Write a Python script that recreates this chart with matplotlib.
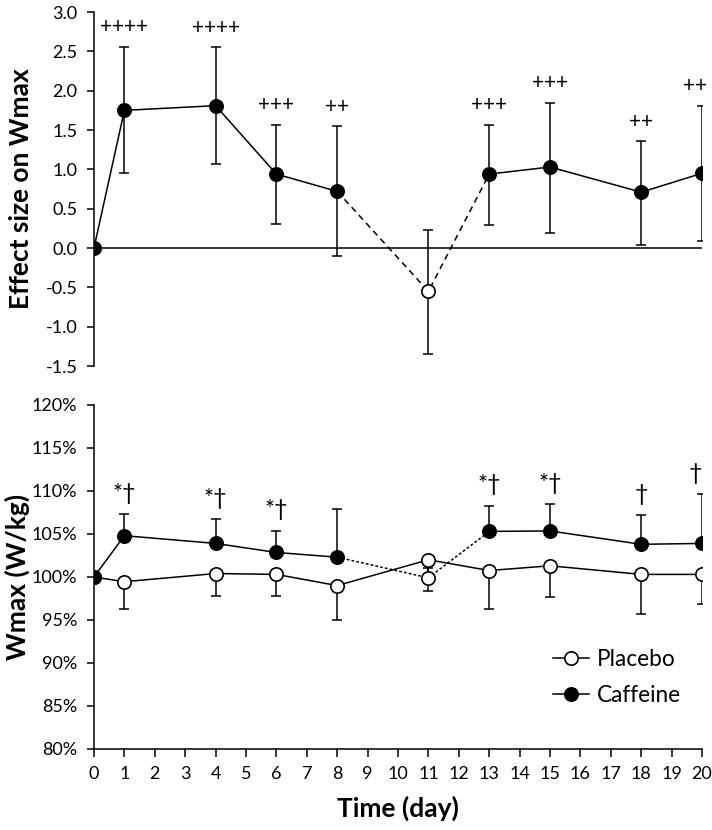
import matplotlib
matplotlib.use("Agg")
import matplotlib.pyplot as plt
from matplotlib.ticker import FuncFormatter

plt.rcParams['font.family'] = ['Lato', 'DejaVu Sans']
plt.rcParams['axes.unicode_minus'] = False

# data
days = [0, 1, 4, 6, 8, 11, 13, 15, 18, 20]

es = [0, 1.75, 1.81, 0.94, 0.72, -0.55, 0.94, 1.03, 0.71, 0.95]
es_hi = [0, 2.56, 2.55, 1.57, 1.55, 0.23, 1.57, 1.85, 1.36, 1.81]
es_lo = [0, 0.95, 1.07, 0.30, -0.10, -1.35, 0.29, 0.19, 0.04, 0.09]
es_marks = ['', '++++', '++++', '+++', '++', '', '+++', '+++', '++', '++']

caf = [100, 104.8, 103.9, 102.85, 102.3, 99.9, 105.3, 105.35, 103.8, 103.9]
caf_hi = [100, 107.3, 106.7, 105.4, 107.9, 101.0, 108.3, 108.5, 107.2, 109.6]
pla = [100, 99.45, 100.4, 100.3, 99.0, 102.0, 100.75, 101.3, 100.3, 100.3]
pla_lo = [100, 96.3, 97.8, 97.8, 95.0, 98.4, 96.3, 97.7, 95.75, 96.9]
w_marks = ['', '*†', '*†', '*†', '', '', '*†', '*†', '†', '†']

# index of the open marker (linked by dashed segments)
gap = 5

fig = plt.figure(figsize=(7.12, 8.30), dpi=100)
ax1 = fig.add_axes([0.132, 0.559, 0.854, 0.4265])
ax2 = fig.add_axes([0.132, 0.0976, 0.854, 0.4145])

ms = 9.6
lw = 1.1
tick_fs = 13
label_fs = 19


def draw_series(ax, y, dash):
    ax.plot(days[:gap], y[:gap], color='k', lw=lw, zorder=2)
    ax.plot(days[gap - 1:gap + 2], y[gap - 1:gap + 2], color='k', lw=lw,
            linestyle=dash, zorder=2)
    ax.plot(days[gap + 1:], y[gap + 1:], color='k', lw=lw, zorder=2)
    for i, (d, v) in enumerate(zip(days, y)):
        fc = 'white' if i == gap else 'black'
        ax.plot(d, v, 'o', ms=ms, mfc=fc, mec='black', mew=1.2, zorder=4)


def mark(ax, x, y, s, dy, fs):
    # keep the last label inside the figure, as the original does
    dx = -5 if x == days[-1] else 0
    ax.annotate(s, (x, y), xytext=(dx, dy), textcoords='offset points',
                ha='center', va='center', fontsize=fs)


# ---- top panel: effect size
ax1.axhline(0, color='k', lw=lw, zorder=1)
lo = [v - l for v, l in zip(es, es_lo)]
hi = [h - v for v, h in zip(es, es_hi)]
ax1.errorbar(days[1:], es[1:], yerr=[lo[1:], hi[1:]], fmt='none', ecolor='k',
             elinewidth=lw, capsize=3.5, capthick=lw, zorder=3)
draw_series(ax1, es, (0, (4, 3)))
for d, top, m in zip(days, es_hi, es_marks):
    if m:
        mark(ax1, d, top, m, 14, 15)

ax1.set_xlim(0, 20)
ax1.set_ylim(-1.5, 3.0)
ax1.set_yticks([-1.5 + 0.5 * i for i in range(10)])
ax1.yaxis.set_major_formatter(FuncFormatter(lambda v, p: f'{v:.1f}'))
ax1.set_xticks([])
for s in ['top', 'right', 'bottom']:
    ax1.spines[s].set_visible(False)
ax1.spines['left'].set_linewidth(lw)
ax1.tick_params(axis='y', direction='out', length=5, width=lw, pad=7,
                labelsize=tick_fs)
ax1.set_ylabel('Effect size on Wmax', fontsize=label_fs, fontweight='bold')
ax1.yaxis.set_label_coords(-0.100, 0.5)
ax1.patch.set_alpha(0)

# ---- bottom panel: Wmax
ax2.errorbar(days[1:], caf[1:],
             yerr=[[0] * 9, [h - v for v, h in zip(caf[1:], caf_hi[1:])]],
             fmt='none', ecolor='k', elinewidth=lw, capsize=3.5, capthick=lw, zorder=3)
ax2.errorbar(days[1:], pla[1:],
             yerr=[[v - l for v, l in zip(pla[1:], pla_lo[1:])], [0] * 9],
             fmt='none', ecolor='k', elinewidth=lw, capsize=3.5, capthick=lw, zorder=3)

ax2.plot(days, pla, color='k', lw=lw, zorder=2)
ax2.plot(days, pla, 'o', ms=ms, mfc='white', mec='black', mew=1.2, zorder=4)
draw_series(ax2, caf, (0, (1.8, 1.4)))

for d, top, m in zip(days, caf_hi, w_marks):
    if m:
        mark(ax2, d, top, m, 15, 17)

ax2.set_xlim(0, 20)
ax2.set_ylim(80, 120)
ax2.set_xticks(range(21))
ax2.set_yticks(range(80, 121, 5))
ax2.yaxis.set_major_formatter(FuncFormatter(lambda v, p: f'{v:.0f}%'))
for s in ['top', 'right']:
    ax2.spines[s].set_visible(False)
for s in ['left', 'bottom']:
    ax2.spines[s].set_linewidth(lw)
ax2.tick_params(axis='y', direction='out', length=5, width=lw, pad=7,
                labelsize=tick_fs)
ax2.tick_params(axis='x', direction='out', length=5.5, width=lw, pad=6.5,
                labelsize=tick_fs)
ax2.set_ylabel('Wmax (W/kg)', fontsize=label_fs, fontweight='bold')
ax2.yaxis.set_label_coords(-0.106, 0.5)
ax2.set_xlabel('Time (day)', fontsize=label_fs, fontweight='bold', labelpad=10)

h1, = ax2.plot([], [], '-o', color='k', lw=lw, ms=ms, mfc='white', mec='black', mew=1.2)
h2, = ax2.plot([], [], '-o', color='k', lw=lw, ms=ms, mfc='black', mec='black', mew=1.2)
ax2.legend([h1, h2], ['Placebo', 'Caffeine'], loc='center left',
           bbox_to_anchor=(0.755, 0.208), frameon=False, fontsize=16.3,
           borderaxespad=0, borderpad=0, handlelength=1.6, handletextpad=0.35,
           labelspacing=0.65)

fig.savefig('out.png', dpi=100)
